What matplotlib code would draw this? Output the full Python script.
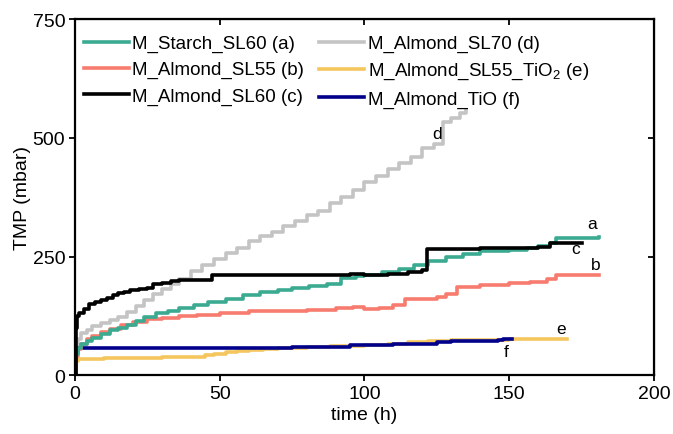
import matplotlib
matplotlib.use("Agg")
import matplotlib.pyplot as plt

plt.rcParams['font.family'] = ['Liberation Sans', 'DejaVu Sans']
plt.rcParams['mathtext.fontset'] = 'custom'
plt.rcParams['mathtext.rm'] = 'Liberation Sans'
plt.rcParams['mathtext.it'] = 'Liberation Sans'

# (a) M_Starch_SL60
t_a = [0, 0.3, 1, 2, 4, 6, 9, 12, 15, 18, 21, 24, 28, 32, 36, 41, 46, 52, 58, 64, 70, 75, 81, 87, 92,
       97, 100, 106, 112, 117, 122, 128, 134, 140, 150, 156, 160, 164, 166, 181]
v_a = [0, 45, 58, 65, 72, 78, 86, 94, 100, 106, 114, 122, 130, 136, 142, 148, 154, 160, 168, 176, 180, 183, 188, 193, 205,
       208, 211, 218, 224, 232, 240, 249, 255, 261, 263, 267, 273, 279, 290, 291]
# (b) M_Almond_SL55
t_b = [0, 0.3, 1, 2, 4, 6, 9, 12, 16, 20, 25, 30, 36, 42, 50, 60, 70, 80, 90, 96, 100, 105, 110, 114,
       125, 128, 132, 140, 150, 157, 163, 166, 181]
v_b = [0, 40, 55, 65, 75, 82, 90, 98, 106, 112, 118, 121, 124, 127, 131, 134, 136, 138, 141, 143, 139, 142, 148, 160,
       164, 171, 185, 190, 194, 197, 203, 211, 211]
# (c) M_Almond_SL60
t_c = [0, 0.3, 0.8, 1.5, 3, 5, 7, 9, 11, 13, 15, 17, 19, 22, 25, 27, 30, 33, 36, 40, 47.5, 60, 80, 95,
       100, 108, 115, 120, 121.5, 140, 160, 164, 175]
v_c = [0, 100, 125, 130, 140, 150, 155, 158, 162, 168, 172, 176, 180, 182, 184, 192, 195, 198, 200, 201, 212, 212, 212, 213,
       211, 213, 217, 222, 266, 268, 270, 279, 279]
# (d) M_Almond_SL70
t_d = [0, 0.3, 1, 2, 4, 6, 9, 12, 15, 18, 21, 24, 27, 30, 33, 36, 40, 44, 48, 52, 56, 60, 64, 68, 72,
       76, 80, 84, 88, 92, 96, 100, 104, 108, 112, 116, 120, 124, 127, 130, 133, 135]
v_d = [0, 50, 75, 88, 96, 104, 110, 116, 122, 133, 145, 158, 170, 181, 192, 202, 220, 232, 245, 258, 268, 282, 294, 302, 314,
       324, 337, 346, 363, 375, 390, 407, 420, 435, 448, 460, 478, 488, 534, 543, 552, 560]
# (e) M_Almond_SL55_TiO2
t_e = [0, 0.3, 1, 10, 20, 30, 35, 40, 45, 48, 52, 56, 60, 65, 70, 75, 80, 88, 95, 100, 108, 115, 122,
       130, 140, 150, 160, 170]
v_e = [0, 30, 34, 35, 36, 37, 38, 39, 42, 45, 48, 50, 52, 54, 56, 58, 60, 61, 62, 64, 66, 70, 72,
       73, 74, 75, 75, 75]
# (f) M_Almond_TiO
t_f = [0, 0.3, 1, 30, 60, 75, 85, 95, 100, 110, 118, 125, 130, 140, 146, 148, 151]
v_f = [0, 50, 58, 58, 58, 59, 60, 63, 64, 65, 66, 70, 71, 72, 74, 76, 76]

series = [
    (t_a, v_a, '#3aaa90', 'M_Starch_SL60 (a)'),
    (t_b, v_b, '#f77c6f', 'M_Almond_SL55 (b)'),
    (t_c, v_c, '#000000', 'M_Almond_SL60 (c)'),
    (t_d, v_d, '#c4c4c4', 'M_Almond_SL70 (d)'),
    (t_e, v_e, '#f5c65e', 'M_Almond_SL55_TiO$_2$ (e)'),
    (t_f, v_f, '#00008b', 'M_Almond_TiO (f)'),
]

# end labels
lab_txt = ['a', 'c', 'b', 'd', 'e', 'f']
lab_x = [178.7, 173, 180, 125, 168, 149]
lab_y = [319, 267, 234, 510, 98, 49]

fig = plt.figure(figsize=(6.73, 4.35), dpi=100)
ax = fig.add_axes([0.1114, 0.1356, 0.8604, 0.8173])

order = [3, 4, 5, 1, 0, 2]
lines = {}
for i in order:
    t, v, c, lab = series[i]
    ln, = ax.plot(t, v, color=c, lw=2.6, drawstyle='steps-post', label=lab)
    lines[i] = ln

for s, x, y in zip(lab_txt, lab_x, lab_y):
    ax.text(x, y, s, fontsize=12.5, ha='center', va='center')

ax.set_xlim(0, 200)
ax.set_ylim(0, 750)
ax.set_xticks([0, 50, 100, 150, 200])
ax.set_yticks([0, 250, 500, 750])
ax.tick_params(labelsize=14, width=1.3, length=4, direction='out', pad=3)
for sp in ax.spines.values():
    sp.set_linewidth(1.6)

top = ax.secondary_xaxis('top')
top.set_xticks([0, 50, 100, 150, 200])
top.tick_params(direction='in', labeltop=False, width=1.3, length=4)
right = ax.secondary_yaxis('right')
right.set_yticks([0, 250, 500, 750])
right.tick_params(direction='in', labelright=False, width=1.3, length=4)

ax.set_xlabel('time (h)', fontsize=14, labelpad=3)
ax.set_ylabel('TMP (mbar)', fontsize=14, labelpad=1)

handles = [lines[i] for i in range(6)]
ax.legend(handles=handles, labels=[s[3] for s in series], ncol=2, frameon=False,
          fontsize=13.5, loc='upper left', bbox_to_anchor=(-0.014, 1.004),
          handlelength=2.4, handletextpad=0.2, columnspacing=0.8, labelspacing=0.47)

fig.savefig('out.png', dpi=100)
